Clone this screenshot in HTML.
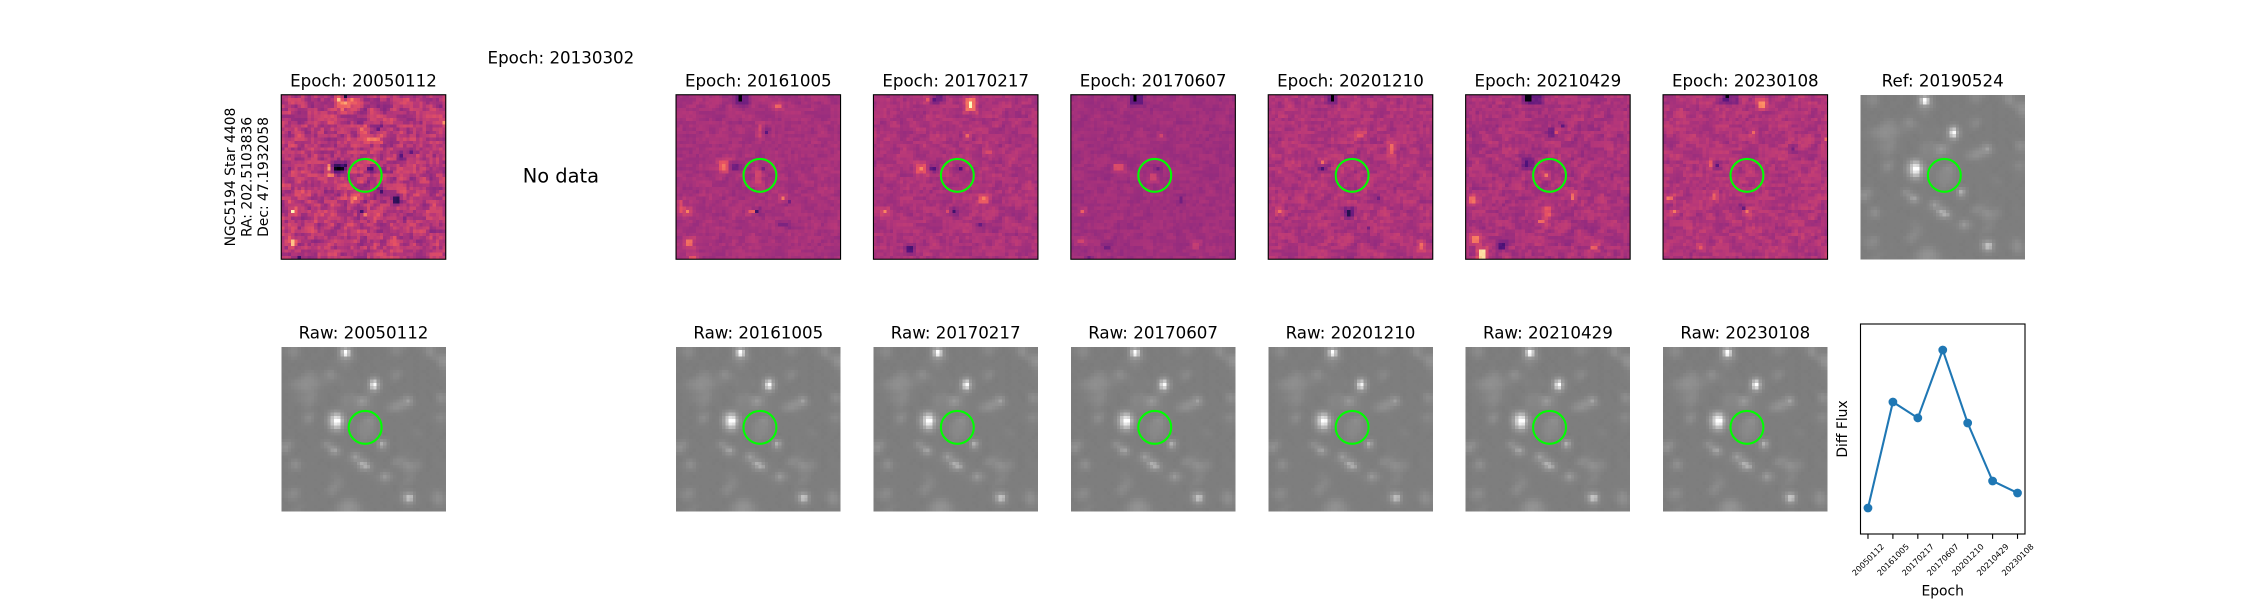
<!DOCTYPE html>
<html lang="en">
<head>
<meta charset="utf-8">
<title>NGC5194 Star 4408 difference image cutouts</title>
<style>
html,body{margin:0;padding:0;background:#fff;width:2250px;height:600px;overflow:hidden}
svg{display:block}
text{font-family:"DejaVu Sans","Liberation Sans",sans-serif;fill:#000}
.t{font-size:16.67px;text-anchor:middle}
.m{font-size:13.89px}
</style>
</head>
<body>
<svg id="fig" xmlns="http://www.w3.org/2000/svg" width="2250" height="600" viewBox="0 0 2250 600">
  <rect x="0" y="0" width="2250" height="600" fill="#fff"/>
  <g id="panels"></g>
  <g class="m" text-anchor="middle">
    <text class="m" text-anchor="middle" transform="translate(234.9 177) rotate(-90)">NGC5194 Star 4408</text>
    <text class="m" text-anchor="middle" transform="translate(251.6 177) rotate(-90)">RA: 202.5103836</text>
    <text class="m" text-anchor="middle" transform="translate(268.2 177) rotate(-90)">Dec: 47.1932058</text>
  </g>
  <text class="t" x="363.5" y="86.4">Epoch: 20050112</text>
  <text class="t" x="560.9" y="63.7">Epoch: 20130302</text>
  <text class="t" x="758.3" y="86.4">Epoch: 20161005</text>
  <text class="t" x="955.7" y="86.4">Epoch: 20170217</text>
  <text class="t" x="1153.1" y="86.4">Epoch: 20170607</text>
  <text class="t" x="1350.5" y="86.4">Epoch: 20201210</text>
  <text class="t" x="1547.9" y="86.4">Epoch: 20210429</text>
  <text class="t" x="1745.3" y="86.4">Epoch: 20230108</text>
  <text class="t" x="1942.7" y="86.4">Ref: 20190524</text>
  <text x="560.9" y="182.5" font-size="19.44" text-anchor="middle">No data</text>
  <text class="t" x="363.5" y="338.4">Raw: 20050112</text>
  <text class="t" x="758.3" y="338.4">Raw: 20161005</text>
  <text class="t" x="955.7" y="338.4">Raw: 20170217</text>
  <text class="t" x="1153.1" y="338.4">Raw: 20170607</text>
  <text class="t" x="1350.5" y="338.4">Raw: 20201210</text>
  <text class="t" x="1547.9" y="338.4">Raw: 20210429</text>
  <text class="t" x="1745.3" y="338.4">Raw: 20230108</text>
  <g id="flux-chart">
    <rect x="1860.5" y="324" width="164.5" height="210" fill="#fff"/>
    <g id="flux-ticks"></g>
    <polyline id="flux-line" fill="none" stroke="#1f77b4" stroke-width="2.08"/>
    <g id="flux-points"></g>
    <rect x="1860.5" y="324" width="164.5" height="210" fill="none" stroke="#000" stroke-width="1.11"/>
    <text class="m" text-anchor="middle" x="1942.7" y="595.5">Epoch</text>
    <text class="m" text-anchor="middle" transform="translate(1846.8 429) rotate(-90)">Diff Flux</text>
  </g>
</svg>
<script>
/* Line chart data */
const fluxEpochs = ["20050112","20161005","20170217","20170607","20201210","20210429","20230108"];
const diffFlux = [0, 67.1, 57, 100, 53.8, 17.1, 9.5];

/* Raw image (shared star field), one base-36 digit per cell */
const rawGrid = [
"4456644344 344434459d 8544344344 3445665543 4445684544",
"4567754344 34443446hz k744344344 3445665443 4445795544",
"4456644434 44434346ft i744344434 4344554434 4344685566",
"3445544344 434434458a 8654434344 3444344344 3444456787",
"4344344443 4434445565 5544343444 4434443444 4344344588",
"3443443444 3443444456 5443444344 3444344444 3444443577",
"4344434443 4434444445 4434344434 4434444344 4344344456",
"4434443555 4445674444 4443444344 4445565444 3443444344",
"3444345566 5456875544 3444344444 3445675444 4344344445",
"4344456776 6555675544 4444344796 4445664344 3444443444",
"3445667777 6555554454 4445447fk9 5444544344 4344344444",
"4456677877 7655444454 4445448nwc 5444434444 3444434344",
"4445667776 6544443444 4444447ina 5443444344 4434444434",
"3444556666 5444444344 4443455796 4444344444 3444344444",
"4344445566 6444344445 5654445554 4344443544 4344344675",
"3444556676 5444344456 5567876544 4444445686 4344434687",
"4344455666 5444434456 5668a96544 44445678c8 5444434575",
"3444445565 4444344456 5557875544 4456788796 5434444455",
"4344344554 4344444455 5566655544 4567887654 4444344444",
"3444344444 4344567754 5544444454 4456665444 4344444344",
"4344344566 44347cgf85 4444444434 4444344444 4443444565",
"4434445786 4445ajqoc6 5444455754 4434444443 4434445675",
"3444344675 4345blzxf7 5544578754 4444344444 4344444565",
"4344344554 4444ajsqc6 5445666754 4444443444 3444344444",
"4434444444 34448dih95 5445666654 4434444444 4434434454",
"3444344344 4434579964 4445666654 4444344344 5544344444",
"4344434444 3444455554 4445666554 4344444444 4554434443",
"3444344344 4434444444 4444565544 3444344434 4444344434",
"4454443444 3444544344 4345554446 9744344444 4434444344",
"6785444344 4459755444 4434444447 fa54444434 3444434444",
"7965444434 4457886544 4444344346 a744344444 4434444344",
"6854434444 44346bc854 4444434444 5544344444 4344344434",
"4544344344 4444578654 4686544344 4444344454 4444434444",
"3444444444 3444445444 58b9654434 4434455544 4344344443",
"4345644344 4434444445 5686765444 4344677654 5544344444",
"3457965444 4344344444 455afd7544 4445775787 6654344444",
"4456854444 4444344344 4456bfc654 4344456787 6654434444",
"3445554344 3444444444 4445665544 4544444566 6544344444",
"4344344444 4434445444 4444445544 6865444555 4434444344",
"3444434344 4444455544 4344444455 8a86544456 5444434444",
"4434444444 3444445654 4444344445 6865444565 4434444434",
"3444344444 4434456654 4344444444 4544444555 4444344444",
"4344444344 4443567554 4444344344 4444345444 3444444344",
"4456654444 3445676544 4434444444 4444344444 4434445544",
"4567754344 4344565444 4444434444 4344445798 5444445764",
"4566654444 4444454444 4444444344 3444446bjh 7444456875",
"3455544344 4344344456 6654434444 4434445aif 6444456875",
"4344444444 4444344567 7765444344 3444444687 5444345765",
"4434455444 3444445678 8876544444 4344344455 4444344554",
"3445554344 4434445678 8776544434 4444434444 4344444444"
];
const rawEpochs = ["20050112","20161005","20170217","20170607","20201210","20210429","20230108"];
const rawGain = [1, 1, 1, 1, 0.95, 1.05, 1.05];
const refGain = 1;

/* Per-epoch difference images: texture tile digits, level, contrast, tile offset */
const diffTexture = [
"46352745618354627364518273645291736458263745162837",
"35472816453729164738256491738264537182946357281645",
"62738451937264582719365481726354928173645182739456",
"47162938465172839465182736459217364852936471829364",
"53829164735281946372851946273518462937518264739185",
"28465173928461735284619375284617392856471392846175",
"74619283746518293746152938475619283746592817364518",
"36284759162837465192837461528374691827365491827364",
"51937462851937264851726394851726394857162394857162",
"84627351948627351694827351648273519648273516482735",
"29384756192837465918273645192837465192738465918273",
"65172839456172839465718293465718293645718293645172",
"43928175643928175649382716549382716543928176543928",
"78261549378261549372816549372816453728164593728165",
"16493827516493827561938274561938274569183274569183",
"52738164952738164927381695273816492738169527381649",
"39164852739164852791648527391648572916485739164857",
"84573926184573926145739261845739216457392618457392",
"27618453927618453976184539276184593761845927618459",
"63482917563482917534829175634829175348291763482917",
"41957382641957382619573826419573862195738241957386",
"95273648195273648152736481952736418527364195273641",
"38146925738146925781469257381469527814695738146952",
"72639185472639185463918547263918456391847263918456",
"15847293615847293684729361584729368472936158472936",
"56391748256391748239174825639174823917482563917482",
"49725316849725316872531684972531687253168497253168",
"83164925783164925716492578316492571649257831649257",
"27459183627459183645918362745918364591836274591836",
"61938472561938472538472561938472563847256193847256",
"94275138694275138675138694275138697513869427513869",
"38516794238516794216794238516794261679423851679426",
"75284961375284961349613752849613749613752849613752",
"16947352816947352873528169473528135281694735281697",
"52463897152463897138971524638971538971524638971524",
"89731264589731264526458973126458926458973126458973",
"34128576934128576957693412857693457693412857693412",
"67395814267395814281426739581426781426739581426739",
"21574369821574369836982157436982136982157436982157",
"95826137495826137413749582613749513749582613749582",
"48163725948163725972594816372594872594816372594816",
"73492618573492618561857349261857361857349261857349",
"16258493716258493749371625849371649371625849371625",
"52937146852937146814685293714685214685293714685293",
"84671352984671352935298467135298435298467135298467",
"39215784639215784678463921578463978463921578463921",
"67548219367548219321936754821936721936754821936754",
"21893657421893657465742189365742165742189365742189",
"94362571894362571857189436257189457189436257189436",
"58729143658729143614365872914365814365872914365872"
];
const diffEpochs = ["20050112","20161005","20170217","20170607","20201210","20210429","20230108"];
const diffLevel = [0.485, 0.455, 0.465, 0.44, 0.47, 0.46, 0.475];
const diffContrast = [0.15, 0.055, 0.07, 0.045, 0.08, 0.08, 0.08];
const diffTileOffset = [0, 7, 19, 31, 13, 41, 23];

/* Visible sources per epoch: column, row, cells wide, cells tall, colour level */
const features20050112 = [[16,21,4,1,0.2],[16,22,3,1,0.04],[17,22,1,1,0],[14,21,1,2,0.75],[14,24,2,1,0.7],[17,1,1,1,0.85],[19,2,1,1,0.85],[19,0,1,1,0.15],[21,1,1,1,0.75],[18,4,1,1,0.7],[29,10,1,1,0.25],[24,10,1,1,0.7],[26,13,4,1,0.72],[34,31,2,2,0.16],[30,29,1,1,0.25],[26,22,2,1,0.27],[22,31,1,1,0.8],[24,35,1,1,0.18],[25,36,1,1,0.75],[3,35,1,1,0.95],[3,44,1,2,0.82],[5,49,1,1,0.25],[39,17,1,1,0.25],[36,18,1,1,0.28],[49,8,1,1,0.72]];
const features20161005 = [[18,0,4,3,0.34],[19,0,1,2,0.02],[30,3,2,1,0.66],[13,20,3,3,0.61],[14,21,1,2,0.7],[17,21,2,2,0.33],[25,9,1,4,0.56],[27,11,1,1,0.28],[24,23,2,4,0.55],[26,22,1,1,0.32],[32,31,1,1,0.72],[34,32,1,1,0.32],[1,32,1,4,0.6],[3,35,1,1,0.72],[3,44,2,2,0.68],[22,35,2,1,0.64],[24,35,1,1,0.22],[4,49,2,1,0.62],[31,39,3,1,0.35]];
const features20170217 = [[28,1,3,4,0.7],[29,2,1,2,1],[18,1,1,1,0.28],[19,0,2,2,0.33],[16,1,1,1,0.62],[13,21,3,3,0.61],[14,22,1,1,0.74],[17,22,2,1,0.27],[26,22,1,1,0.27],[28,12,1,1,0.68],[32,31,3,2,0.64],[33,31,1,1,0.72],[3,35,1,1,0.75],[24,35,1,1,0.22],[22,35,1,1,0.6],[10,46,2,2,0.24],[34,17,2,1,0.6],[32,39,1,1,0.32]];
const features20170607 = [[18,0,4,3,0.3],[19,0,1,2,0],[13,21,3,2,0.58],[24,24,2,2,0.56],[26,22,1,1,0.32],[33,31,1,2,0.32],[3,35,1,1,0.64],[2,44,2,1,0.56],[10,46,2,1,0.32],[37,45,2,2,0.53],[5,49,1,1,0.33],[27,12,1,1,0.55]];
const features20201210 = [[18,0,2,2,0.32],[19,0,1,2,0],[16,20,1,1,0.7],[15,22,3,1,0.36],[16,22,1,1,0.24],[23,35,2,1,0.3],[24,35,1,2,0.15],[3,35,1,1,0.68],[37,15,1,3,0.66],[33,31,1,1,0.34],[30,40,1,1,0.34],[46,45,1,2,0.66],[27,12,2,1,0.64]];
const features20210429 = [[20,0,3,3,0.32],[18,0,2,2,0.02],[4,47,2,3,0.92],[2,43,2,2,0.7],[1,31,2,2,0.68],[17,19,4,4,0.36],[18,20,1,2,0.22],[24,24,1,1,0.68],[32,30,1,2,0.7],[24,34,2,3,0.62],[29,9,1,1,0.27],[25,10,2,3,0.34],[27,11,1,1,0.63],[10,45,2,2,0.24],[38,46,2,1,0.66],[22,38,2,1,0.67]];
const features20230108 = [[20,0,3,3,0.37],[18,1,2,1,0.27],[19,0,1,1,0.02],[29,2,2,2,0.74],[27,11,1,1,0.66],[1,31,2,1,0.68],[15,30,1,2,0.66],[3,35,1,1,0.7],[25,35,1,1,0.7],[24,34,1,1,0.27],[16,21,1,1,0.27],[14,20,1,2,0.63],[39,16,1,1,0.32],[49,13,1,1,0.68],[11,46,1,1,0.66]];
const diffFeatures = [features20050112, features20161005, features20170217, features20170607, features20201210, features20210429, features20230108];

/* Axis / layout functions */
const NS = "http://www.w3.org/2000/svg";
const GRID = 50;
const FIG_LEFT = 281.25, COL_W = 164.5, COL_PITCH = 197.4;
const ROW_TOP = [72, 324], ROW_H = 210;
const colLeft = c => FIG_LEFT + c * COL_PITCH;
const imgTop = r => ROW_TOP[r] + (ROW_H - COL_W) / 2;
const cellSize = COL_W / GRID;
const MAGMA = [[0,0,4],[29,17,71],[81,18,124],[131,38,129],[183,55,121],[231,82,99],[252,137,97],[254,196,136],[252,253,191]];
function magma(v) {
  const t = Math.max(0, Math.min(1, v)) * (MAGMA.length - 1);
  const i = Math.min(MAGMA.length - 2, Math.floor(t));
  const f = t - i;
  const c = [0,1,2].map(k => Math.round(MAGMA[i][k] + (MAGMA[i+1][k] - MAGMA[i][k]) * f));
  return "rgb(" + c.join(",") + ")";
}
function grey(v) {
  const g = Math.max(0, Math.min(255, Math.round(v)));
  return "rgb(" + g + "," + g + "," + g + ")";
}
function drawPanel(col, row, name, colourAt, framed) {
  const x0 = colLeft(col), y0 = imgTop(row);
  const g = document.createElementNS(NS, "g");
  
  
  g.setAttribute("shape-rendering", "crispEdges");
  for (let r = 0; r < GRID; r++) {
    for (let c = 0; c < GRID; c++) {
      const cell = document.createElementNS(NS, "rect");
      
      
      cell.setAttribute("x", (x0 + c * cellSize).toFixed(2));
      cell.setAttribute("y", (y0 + r * cellSize).toFixed(2));
      cell.setAttribute("width", cellSize.toFixed(2));
      cell.setAttribute("height", cellSize.toFixed(2));
      cell.setAttribute("fill", colourAt(c, r));
      g.appendChild(cell);
    }
  }
  document.getElementById("panels").appendChild(g);
  if (framed) {
    const frame = document.createElementNS(NS, "rect");
    
    
    frame.setAttribute("x", x0);
    frame.setAttribute("y", y0);
    frame.setAttribute("width", COL_W);
    frame.setAttribute("height", COL_W);
    frame.setAttribute("fill", "none");
    frame.setAttribute("stroke", "#000");
    frame.setAttribute("stroke-width", "1.11");
    document.getElementById("panels").appendChild(frame);
  }
  const ring = document.createElementNS(NS, "circle");
  
  
  ring.setAttribute("cx", x0 + 25.5 * cellSize);
  ring.setAttribute("cy", y0 + 24.5 * cellSize);
  ring.setAttribute("r", 5 * cellSize);
  ring.setAttribute("fill", "none");
  ring.setAttribute("stroke", "#00ff00");
  ring.setAttribute("stroke-width", "2.08");
  document.getElementById("panels").appendChild(ring);
}
const rawRows = rawGrid.map(s => s.replace(/ /g, ""));
function rawDigit(c, r) {
  const cc = Math.max(0, Math.min(GRID - 1, c)), rr = Math.max(0, Math.min(GRID - 1, r));
  return parseInt(rawRows[rr][cc] || "4", 36);
}
/* Seeing-like display: faint cells are averaged with their neighbours, bright cores stay sharp */
function rawColour(gain) {
  return (c, r) => {
    let sum = 0;
    for (let dr = -1; dr <= 1; dr++) {
      for (let dc = -1; dc <= 1; dc++) {
        sum += Math.min(rawDigit(c + dc, r + dr), 12) * (dr === 0 && dc === 0 ? 4 : 1);
      }
    }
    const soft = 4 + (sum / 12 - 4) * 1.2;
    const v = rawDigit(c, r);
    const level = v >= 10 ? Math.max(v, soft) : soft;
    return grey(109 + 4.4 * (4 + (level - 4) * gain));
  };
}
function texture(i, c, r) {
  const rr = ((r * 7 + diffTileOffset[i]) % GRID + GRID) % GRID;
  const cc = ((c * 11 + diffTileOffset[i] * 3) % GRID + GRID) % GRID;
  return (Number(diffTexture[rr][cc]) - 4.5) / 4.5;
}
function diffColour(i) {
  const values = [];
  for (let r = 0; r < GRID; r++) {
    values.push([]);
    for (let c = 0; c < GRID; c++) {
      const n = 0.5 * texture(i, c, r) + 0.3 * texture(i, c - 1, r) + 0.2 * texture(i, c, r - 1);
      values[r].push(diffLevel[i] + diffContrast[i] * n);
    }
  }
  const level = diffLevel[i];
  diffFeatures[i].forEach(f => {
    for (let r = f[1] - 1; r <= f[1] + f[3]; r++) {
      for (let c = f[0] - 1; c <= f[0] + f[2]; c++) {
        if (r >= 0 && r < GRID && c >= 0 && c < GRID) {
          values[r][c] += (f[4] - level) * 0.22;
        }
      }
    }
  });
  diffFeatures[i].forEach(f => {
    for (let r = f[1]; r < f[1] + f[3] && r < GRID; r++) {
      for (let c = f[0]; c < f[0] + f[2] && c < GRID; c++) {
        values[r][c] = f[4] + 0.35 * diffContrast[i] * texture(i, c, r) * (f[4] > 0.1 ? 1 : 0);
      }
    }
  });
  return (c, r) => magma(values[r][c]);
}
const diffColumns = [0, 2, 3, 4, 5, 6, 7];
diffEpochs.forEach((e, i) => drawPanel(diffColumns[i], 0, "diff-image-" + e, diffColour(i), true));
drawPanel(8, 0, "ref-image-20190524", rawColour(refGain), false);
rawEpochs.forEach((e, i) => drawPanel(diffColumns[i], 1, "raw-image-" + e, rawColour(rawGain[i]), false));

/* Line chart */
const PLOT_L = 1860.5, PLOT_W = 164.5, PLOT_T = 324, PLOT_H = 210;
const xScale = i => PLOT_L + PLOT_W * (i + 0.3) / (fluxEpochs.length - 1 + 0.6);
const yLow = Math.min(...diffFlux), yHigh = Math.max(...diffFlux);
const yPad = (yHigh - yLow) * 0.1646;
const yScale = v => PLOT_T + PLOT_H * (1 - (v - yLow + yPad) / (yHigh - yLow + 2 * yPad));
document.getElementById("flux-line").setAttribute("points", diffFlux.map((v, i) => xScale(i).toFixed(2) + "," + yScale(v).toFixed(2)).join(" "));
diffFlux.forEach((v, i) => {
  const p = document.createElementNS(NS, "circle");
  
  
  p.setAttribute("cx", xScale(i));
  p.setAttribute("cy", yScale(v));
  p.setAttribute("r", 4.4);
  p.setAttribute("fill", "#1f77b4");
  document.getElementById("flux-points").appendChild(p);
});
fluxEpochs.forEach((e, i) => {
  const x = xScale(i);
  const tick = document.createElementNS(NS, "line");
  
  
  tick.setAttribute("x1", x);
  tick.setAttribute("x2", x);
  tick.setAttribute("y1", PLOT_T + PLOT_H);
  tick.setAttribute("y2", PLOT_T + PLOT_H + 4.86);
  tick.setAttribute("stroke", "#000");
  tick.setAttribute("stroke-width", "1.11");
  document.getElementById("flux-ticks").appendChild(tick);
  const label = document.createElementNS(NS, "text");
  
  
  label.setAttribute("font-size", "8.1");
  label.setAttribute("text-anchor", "middle");
  label.setAttribute("transform", "translate(" + x + " 559.6) rotate(-45) translate(0 3)");
  label.textContent = e;
  document.getElementById("flux-ticks").appendChild(label);
});
</script>
</body>
</html>
